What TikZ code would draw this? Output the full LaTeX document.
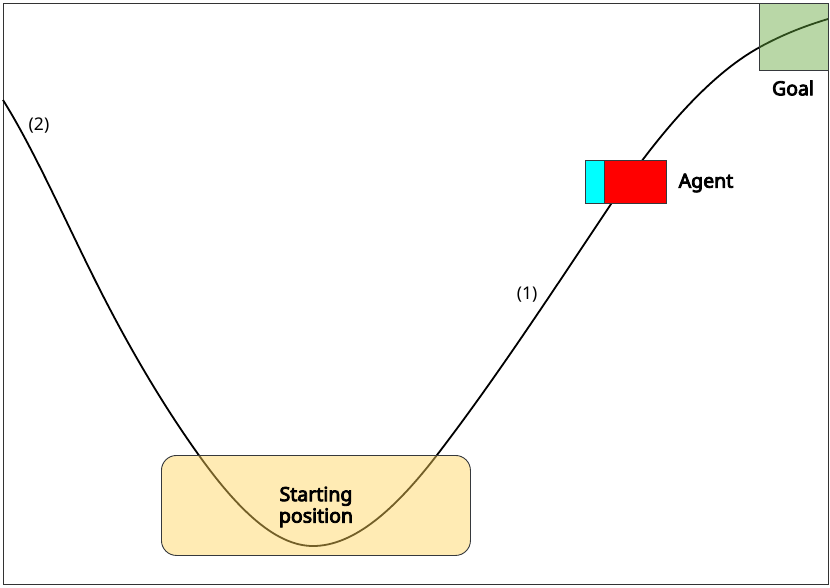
\documentclass[tikz,border=0pt]{standalone}
\usepackage{fontspec}
\setmainfont{Noto Sans}[AutoFakeBold=4.2]
\definecolor{framec}{HTML}{333333}
\definecolor{startfill}{RGB}{255,211,89}
\definecolor{goalfill}{RGB}{100,167,62}
\definecolor{boxline}{HTML}{36393D}
\definecolor{agentcyan}{RGB}{0,255,255}
\definecolor{agentred}{RGB}{255,0,0}
\begin{document}
\begin{tikzpicture}[x=1pt,y=-1pt,
  plainlbl/.style={font=\fontsize{17.5}{21}\selectfont, inner sep=0pt},
  boldlbl/.style={font=\bfseries\fontsize{19.5}{21.5}\selectfont, align=center, inner sep=0pt},
  startbox/.style={draw=boxline, line width=0.9pt, fill=startfill, fill opacity=0.45, draw opacity=1, rounded corners=15pt, anchor=north west, minimum width=309pt, minimum height=100pt, inner sep=0pt},
  goalbox/.style={draw=boxline, line width=0.9pt, fill=goalfill, fill opacity=0.45, draw opacity=1, anchor=north west, minimum width=69pt, minimum height=67pt, inner sep=0pt},
  cyanbox/.style={draw=boxline, line width=0.9pt, fill=agentcyan, anchor=north west, minimum width=19pt, minimum height=43pt, inner sep=0pt},
  redbox/.style={draw=boxline, line width=0.9pt, fill=agentred, anchor=north west, minimum width=62pt, minimum height=43pt, inner sep=0pt},
  hill/.style={line width=1.8pt, black}
]
\useasboundingbox (0,0) rectangle (830,587);
\fill[white] (0,0) rectangle (830,587);
\draw[framec, line width=1pt] (3,3) rectangle (828,584);

% mountain curve
\draw[hill] (3,100)
  .. controls (33.7,149) and (64.3,218.6) .. (95,280)
  .. controls (129.3,348.6) and (163.7,406) .. (198,454)
  .. controls (236.3,507.7) and (274.7,546) .. (313,546)
  .. controls (354.3,546) and (395.7,508.7) .. (437,455)
  .. controls (493,382.2) and (549,297) .. (605,213)
  .. controls (656.7,135.5) and (708.3,75.4) .. (760,47)
  .. controls (782.7,34.5) and (805.3,25.8) .. (828,19);

% boxes
\node[startbox] (start) at (161,455) {};
\node[goalbox] (goal) at (759,3) {};
\node[cyanbox] (cyanpart) at (585,160) {};
\node[redbox] (redpart) at (604,160) {};

% labels
\node[boldlbl] (starttxt) at (316,507) {Starting\\position};
\node[boldlbl] (goaltxt) at (793,88) {Goal};
\node[boldlbl] (agenttxt) at (706,183) {Agent};
\node[plainlbl] (lbltwo) at (39,126) {(2)};
\node[plainlbl] (lblone) at (527,295) {(1)};
\end{tikzpicture}
\end{document}
